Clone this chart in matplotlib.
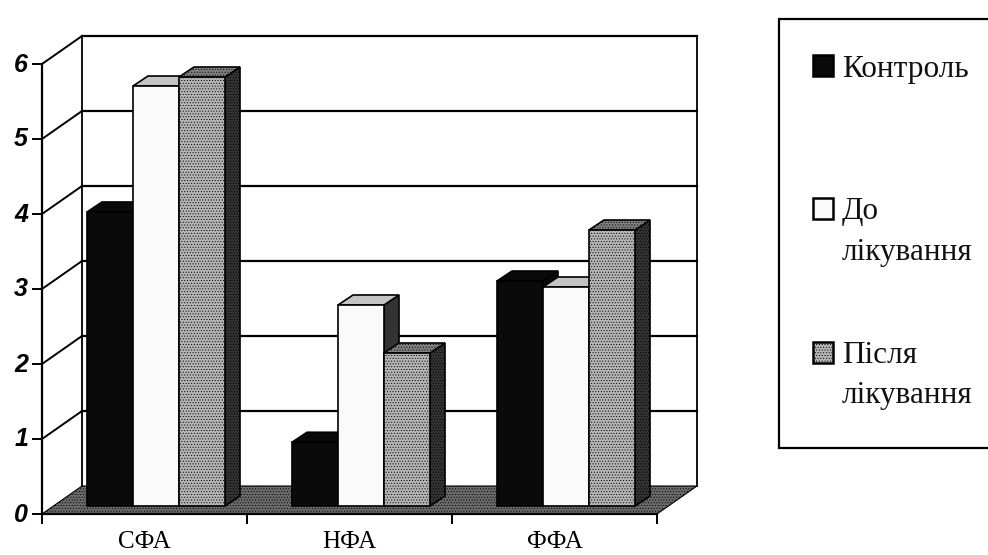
import matplotlib
matplotlib.use("Agg")
import matplotlib.pyplot as plt
from matplotlib.patches import Polygon, Rectangle
from matplotlib.transforms import ScaledTranslation

CATEGORIES = ["СФА", "НФА", "ФФА"]
CONTROL = [3.92, 0.85, 3.0]
BEFORE = [5.6, 2.68, 2.92]
AFTER = [5.72, 2.04, 3.68]
Y_TICKS = [0, 1, 2, 3, 4, 5, 6]

W, H = 988, 555
X_PX = 205.0  # pixels per category
Y_PX = 75.0  # pixels per unit
WALL_DX = 40 / X_PX
WALL_DY = 28 / Y_PX
BAR_DX = 15 / X_PX
BAR_DY = 10 / Y_PX
BAR_W = 46 / X_PX
BAR_X0 = 33 / X_PX
BAR_SHIFT_X = 12 / X_PX
BAR_SHIFT_Y = 8 / Y_PX

plt.rcParams["hatch.linewidth"] = 0.4
plt.rcParams["hatch.color"] = "#222222"

fig = plt.figure(figsize=(W / 100, H / 100), dpi=100)
ax = fig.add_axes([42 / W, 1 - 514 / H, 615 / W, 450 / H])
ax.set_xlim(0, 3)
ax.set_ylim(0, 6)
ax.patch.set_alpha(0)
ax.spines["top"].set_visible(False)
ax.spines["right"].set_visible(False)
for s in ax.spines.values():
    s.set_linewidth(1.6)
    s.set_zorder(6)


def poly(points, fc, z, hatch=None, lw=1.2):
    ax.add_patch(Polygon(points, closed=True, facecolor=fc, edgecolor="black",
                         linewidth=lw, hatch=hatch, zorder=z, clip_on=False))


# floor
poly([(0, 0), (3, 0), (3 + WALL_DX, WALL_DY), (WALL_DX, WALL_DY)], "#6a6a6a", 1, "......", 0.8)

# back wall and the diagonal lines running to it
for wall_x in [WALL_DX, 3 + WALL_DX]:
    ax.plot([wall_x, wall_x], [WALL_DY, 6 + WALL_DY], color="black", lw=1.3, zorder=2, clip_on=False)
for v in Y_TICKS[1:]:
    ax.plot([WALL_DX, 3 + WALL_DX], [v + WALL_DY, v + WALL_DY], color="black", lw=1.6, zorder=2, clip_on=False)
    ax.plot([0, WALL_DX], [v, v + WALL_DY], color="black", lw=1.4, zorder=2, clip_on=False)


def bar(left, value, front, side, top, hatch, z):
    x0 = left + BAR_SHIFT_X
    x1 = x0 + BAR_W
    y0 = BAR_SHIFT_Y
    y1 = value + BAR_SHIFT_Y
    poly([(x1, y0), (x1 + BAR_DX, y0 + BAR_DY), (x1 + BAR_DX, y1 + BAR_DY), (x1, y1)], side, z, hatch)
    poly([(x0, y1), (x1, y1), (x1 + BAR_DX, y1 + BAR_DY), (x0 + BAR_DX, y1 + BAR_DY)], top, z, hatch)
    poly([(x0, y0), (x1, y0), (x1, y1), (x0, y1)], front, z + 0.5, hatch)


for i in range(len(CATEGORIES)):
    left = i + BAR_X0
    bar(left, CONTROL[i], "#0a0a0a", "#0a0a0a", "#0a0a0a", None, 3)
    bar(left + BAR_W, BEFORE[i], "#fafafa", "#333333", "#c4c4c4", None, 3)
    bar(left + 2 * BAR_W, AFTER[i], "#b4b4b4", "#333333", "#808080", "......", 3)

ax.set_xticks([0, 1, 2, 3])
ax.set_xticklabels([])
ax.set_xticks([0.5, 1.5, 2.5], CATEGORIES, minor=True, family="Liberation Serif", fontsize=18)
ax.tick_params(axis="x", which="minor", length=0, pad=12)
ax.tick_params(axis="x", which="major", length=7, width=1.4, direction="out")
ax.set_yticks(Y_TICKS)
ax.set_yticklabels([str(v) for v in Y_TICKS], family="Liberation Sans", fontsize=18,
                   fontweight="bold", fontstyle="italic")
ax.tick_params(axis="y", length=7, width=1.4, pad=3)
nudge = ScaledTranslation(0, 2 / 100, fig.dpi_scale_trans)
for tl in ax.get_yticklabels():
    tl.set_transform(tl.get_transform() + nudge)

# legend box, drawn in pixel coordinates
lg = fig.add_axes([0, 0, 1, 1])
lg.set_xlim(0, W)
lg.set_ylim(H, 0)
lg.axis("off")
lg.patch.set_alpha(0)
lg.add_patch(Rectangle((779, 19), 230, 429, facecolor="white", edgecolor="black", linewidth=1.6))

legend_swatches = [("#0a0a0a", None, 55), ("#fafafa", None, 198), ("#b4b4b4", "......", 342)]
for fc, hatch, y in legend_swatches:
    lg.add_patch(Rectangle((813, y), 20, 21, facecolor=fc, edgecolor="black", linewidth=1.8, hatch=hatch))

legend_text = [("Контроль", 77), ("До", 219), ("лікування", 260), ("Після", 363), ("лікування", 403)]
for label, y in legend_text:
    lg.text(842, y, label, family="Liberation Serif", fontsize=22.5, va="baseline", ha="left", color="#111111")

fig.savefig("out.png", dpi=100)
